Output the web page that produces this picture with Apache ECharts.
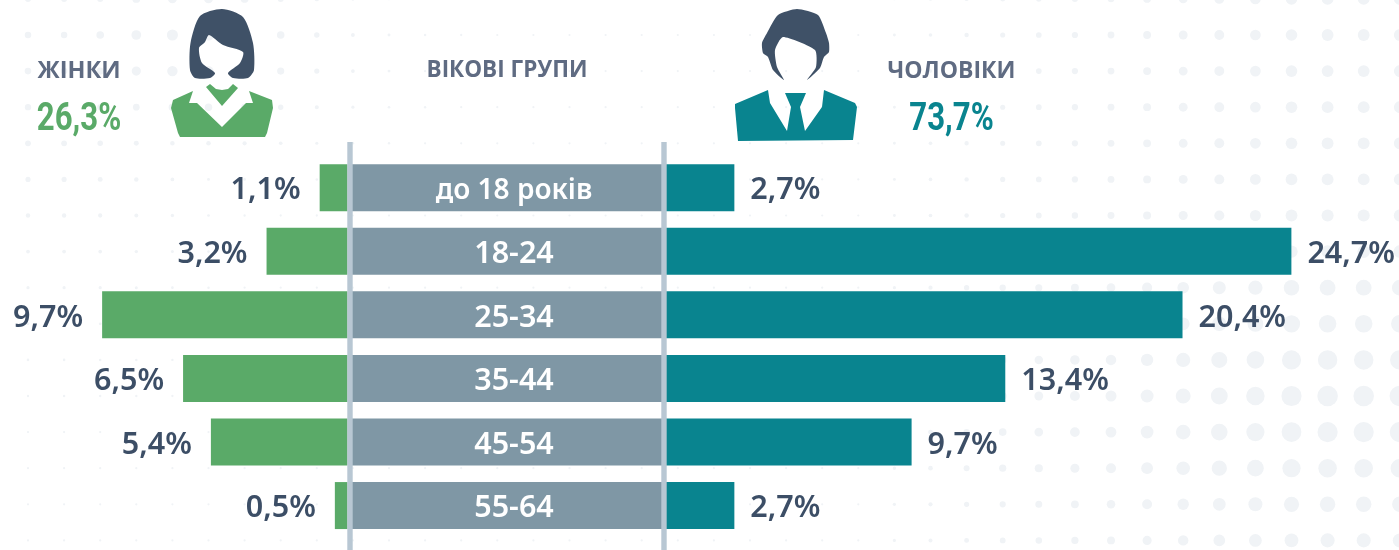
<!DOCTYPE html>
<html><head><meta charset="utf-8">
<style>html,body{margin:0;padding:0;background:#fff}#c{width:1399px;height:550px}</style>
<script src="https://cdn.jsdelivr.net/npm/echarts@6/dist/echarts.min.js"></script>
</head><body><div id="c"></div>
<script>
const categories = ['до 18 років','18-24','25-34','35-44','45-54','55-64'];
const women = [1.1,3.2,9.7,6.5,5.4,0.5];
const men = [2.7,24.7,20.4,13.4,9.7,2.7];
const band = [1,1,1,1,1,1];
const womenTotal = '26,3%', menTotal = '73,7%';
const headers = ['ЖІНКИ','ВІКОВІ ГРУПИ','ЧОЛОВІКИ'];

const GREEN='#5aaa68', TEAL='#09848f', GRAY='#7f97a5', DARK='#3c4e66', HEAD='#5f6b82', HAIR='#3f5167', LINE='#b8c7d3', DOT='#f0f3f6';
const FONT='"Noto Sans"';
const fmt = p => p.value.toFixed(1).replace('.',',')+'%';

function lerp(xs,ys,x){ if(x<=xs[0])return ys[0]; for(let i=1;i<xs.length;i++){ if(x<=xs[i]) return ys[i-1]+(ys[i]-ys[i-1])*(x-xs[i-1])/(xs[i]-xs[i-1]); } return ys[ys.length-1]; }
function dotR(x,y){
  const left = 4.6*Math.exp(-Math.pow((x-190)/125,2)-Math.pow((y-45)/85,2));
  const edge = 2.2*Math.exp(-Math.pow(x/190,4)-Math.pow((y-60)/190,2));
  const f = lerp([860,1000,1111,1219,1300],[0,.3,.48,.8,1],x);
  const amp = 4.8+3.4*Math.exp(-Math.pow((y-405)/105,2)) + (y>280?1:0);
  return 1.1+Math.max(left,edge)+f*amp*(y>480?0.92:1);
}
const dots=[];
for(let j=0;j<16;j++)for(let i=0;i<39;i++){
  const x=28+36.1*i,y=-1.1+36.1*j;
  dots.push({type:'circle',silent:true,z:0,shape:{cx:x,cy:y,r:dotR(x,y)},style:{fill:DOT}});
}
function shape(d,fill){return {type:'polygon',silent:true,z:10,shape:{points:d,smooth:0},style:{fill}};}
function curve(d,fill,s){return {type:'polygon',silent:true,z:10,shape:{points:d,smooth:s},style:{fill}};}

const womanHair=[[215,73],[210,78],[195,78],[190,70],[190.5,43],[200,16],[222,9],[243,17],[253,43],[254,70],[248,78],[233,78],[228,73],[240,63],[243,52],[223,45],[209,35],[205,42],[199,48],[202,63]];
const womanBody=[[171,108],[173,100],[193,91],[189,103],[197,103],[222,127],[246,103],[253,103],[249,91],[272,100],[273,108],[267,133],[265,137],[180,137],[178,133]];
const womanNeck=[[206,87],[210,84],[216,89],[222,90],[228,89],[233,84],[238,88],[222,106]];
const manHair=[[797,9],[778,15],[767,33],[762,43],[763,53],[768,57],[773,70],[784,80],[777,67],[775,50],[783,37],[815,50],[816,67],[807,80],[820,68],[824,57],[829,52],[829,43],[826,33],[818,15]];
const manBody=[[735,104],[768,90],[770,103],[787,131],[791,107],[785,93],[806,93],[800,107],[805,131],[822,107],[824,90],[855,103],[857,107],[853,140],[738,141],[735,108]];

const text=(s,cx,cy,size,weight,fill,family,sx)=>({type:'text',silent:true,z:10,x:cx,y:cy,scaleX:sx||1,style:{text:s,fill,font:`${weight} ${size}px ${family}`,align:'center',verticalAlign:'middle'}});

const gridTop=155.95, gridH=381.4;
const labelBase={color:DARK,fontFamily:FONT,fontWeight:600,fontSize:30.5,offset:[0,3]};
const option={
  animation:false,
  backgroundColor:'#fff',
  grid:[
    {left:6,top:gridTop,width:341.5,height:gridH},
    {left:348,top:gridTop,width:318,height:gridH},
    {left:666,top:gridTop,width:733,height:gridH}
  ],
  xAxis:[
    {gridIndex:0,type:'value',inverse:true,min:0,max:13.5,show:false},
    {gridIndex:1,type:'value',min:0,max:1,show:false},
    {gridIndex:2,type:'value',min:0,max:28.95,show:false}
  ],
  yAxis:[0,1,2].map(i=>({gridIndex:i,type:'category',inverse:true,data:categories,show:false})),
  series:[
    {type:'bar',name:'Жінки',xAxisIndex:0,yAxisIndex:0,data:women,barWidth:47,itemStyle:{color:GREEN},
      label:{show:true,position:'left',distance:19,formatter:fmt,...labelBase}},
    {type:'bar',name:'Вікові групи',xAxisIndex:1,yAxisIndex:1,data:band,barWidth:47,itemStyle:{color:GRAY},
      label:{show:true,position:'inside',formatter:p=>p.dataIndex===0?'{s|'+p.name+'}':p.name,rich:{s:{color:'#fff',fontFamily:FONT,fontWeight:600,fontSize:28}},...labelBase,color:'#fff',offset:[7,3]}},
    {type:'bar',name:'Чоловіки',xAxisIndex:2,yAxisIndex:2,data:men,barWidth:47,itemStyle:{color:TEAL},
      label:{show:true,position:'right',distance:16,formatter:fmt,...labelBase}}
  ],
  graphic:{elements:[
    ...dots,
    {type:'rect',silent:true,z:10,shape:{x:347.3,y:142,width:5.4,height:408},style:{fill:LINE}},
    {type:'rect',silent:true,z:10,shape:{x:661.3,y:142,width:5.4,height:408},style:{fill:LINE}},
    curve(womanHair,HAIR,0.25),
    shape(womanBody,GREEN),
    shape(womanNeck,GREEN),
    curve(manHair,HAIR,0.2),
    shape(manBody,TEAL),
    text(headers[0],79,71,23.5,700,HEAD,'"Open Sans"'),
    text(headers[1],507,71,22.5,700,HEAD,'"Open Sans"'),
    text(headers[2],951.5,71,23,700,HEAD,'"Open Sans"'),
    text(womenTotal,79,120.5,39,700,GREEN,'Roboto',0.8),
    text(menTotal,951.5,120.5,39,700,TEAL,'Roboto',0.8)
  ]}
};
echarts.init(document.getElementById('c'),null,{renderer:'canvas'}).setOption(option);
</script></body></html>
